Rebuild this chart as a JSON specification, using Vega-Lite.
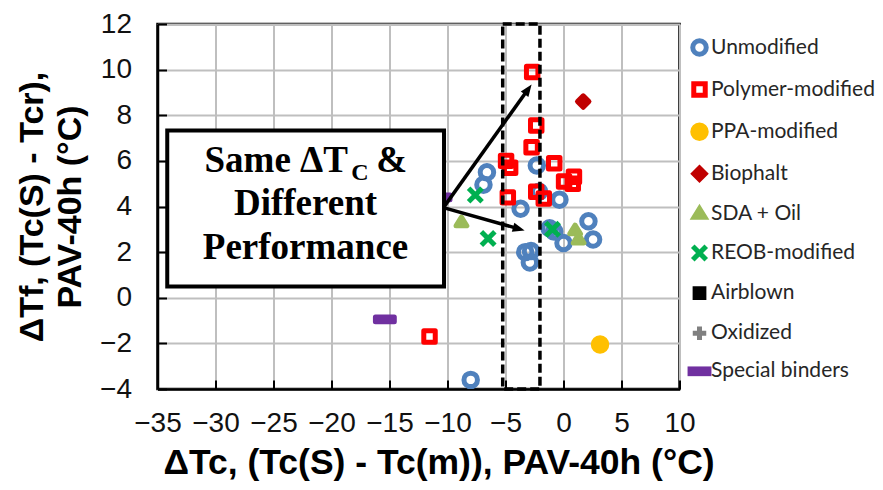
{
  "$schema": "https://vega.github.io/schema/vega-lite/v6.json",
  "width": 522,
  "height": 365,
  "autosize": "none",
  "padding": {"left": 157.5, "top": 24, "right": 203.5, "bottom": 101},
  "background": "white",
  "config": {
    "view": {"stroke": "black", "strokeWidth": 2.5}
  },
  "encoding": {
    "x": {
      "field": "x",
      "type": "quantitative",
      "scale": {"domain": [-35, 10], "nice": false, "zero": false},
      "axis": {
        "values": [-35, -30, -25, -20, -15, -10, -5, 0, 5, 10],
        "title": "ΔTc, (Tc(S) - Tc(m)), PAV-40h (°C)",
        "grid": true, "gridColor": "#bfbfbf", "gridWidth": 2,
        "tickSize": -9, "tickColor": "black", "tickWidth": 2,
        "domainColor": "black", "domainWidth": 2.5,
        "labelFont": "Liberation Sans", "labelFontSize": 28, "labelColor": "#111",
        "labelPadding": 29, "labelFlush": false, "labelOverlap": false,
        "titleFont": "Liberation Sans", "titleFontWeight": "bold", "titleFontSize": 35.5,
        "titleColor": "black", "titleX": 281, "titleY": 73, "titleBaseline": "middle", "titleAlign": "center"
      }
    },
    "y": {
      "field": "y",
      "type": "quantitative",
      "scale": {"domain": [-4, 12], "nice": false, "zero": false},
      "axis": {
        "values": [-4, -2, 0, 2, 4, 6, 8, 10, 12],
        "title": ["ΔTf,  (Tc(S) - Tcr),", "PAV-40h (°C)"],
        "grid": true, "gridColor": "#bfbfbf", "gridWidth": 2,
        "tickSize": -9, "tickColor": "black", "tickWidth": 2,
        "domainColor": "black", "domainWidth": 2.5,
        "labelFont": "Liberation Sans", "labelFontSize": 28, "labelColor": "#111",
        "labelPadding": 35, "labelFlush": false, "labelOverlap": false,
        "titleFont": "Liberation Sans", "titleFontWeight": "bold", "titleFontSize": 34,
        "titleLineHeight": 38, "titleColor": "black",
        "titleX": -125.5, "titleY": 182.5, "titleAngle": -90,
        "titleBaseline": "middle", "titleAlign": "center"
      }
    }
  },
  "layer": [
    {
      "data": {
        "values": [
          {"type": "Unmodified", "x": -6.6, "y": 5.5},
          {"type": "Unmodified", "x": -6.9, "y": 4.95},
          {"type": "Unmodified", "x": -2.3, "y": 5.8},
          {"type": "Unmodified", "x": -2.1, "y": 4.65},
          {"type": "Unmodified", "x": -0.35, "y": 4.3},
          {"type": "Unmodified", "x": -3.7, "y": 3.9},
          {"type": "Unmodified", "x": 2.15, "y": 3.35},
          {"type": "Unmodified", "x": -1.2, "y": 3.05},
          {"type": "Unmodified", "x": -0.8, "y": 2.9},
          {"type": "Unmodified", "x": 0.0, "y": 2.4},
          {"type": "Unmodified", "x": 2.55, "y": 2.55},
          {"type": "Unmodified", "x": -3.3, "y": 2.0},
          {"type": "Unmodified", "x": -2.8, "y": 2.05},
          {"type": "Unmodified", "x": -2.9, "y": 1.55},
          {"type": "Unmodified", "x": -8.0, "y": -3.6},
          {"type": "Polymer-modified", "x": -2.7, "y": 9.9},
          {"type": "Polymer-modified", "x": -2.35, "y": 7.55},
          {"type": "Polymer-modified", "x": -2.75, "y": 6.6},
          {"type": "Polymer-modified", "x": -4.95, "y": 6.0},
          {"type": "Polymer-modified", "x": -4.6, "y": 5.7},
          {"type": "Polymer-modified", "x": -0.8, "y": 5.9},
          {"type": "Polymer-modified", "x": 0.05, "y": 5.1},
          {"type": "Polymer-modified", "x": 0.9, "y": 5.3},
          {"type": "Polymer-modified", "x": 0.8, "y": 5.0},
          {"type": "Polymer-modified", "x": -4.8, "y": 4.4},
          {"type": "Polymer-modified", "x": -2.35, "y": 4.65},
          {"type": "Polymer-modified", "x": -1.7, "y": 4.35},
          {"type": "Polymer-modified", "x": -11.55, "y": -1.7},
          {"type": "PPA-modified", "x": 3.15, "y": -2.05},
          {"type": "Biophalt", "x": 1.7, "y": 8.6},
          {"type": "SDA + Oil", "x": -8.8, "y": 3.3},
          {"type": "SDA + Oil", "x": 1.0, "y": 2.95},
          {"type": "SDA + Oil", "x": 1.3, "y": 2.55},
          {"type": "REOB-modified", "x": -7.6, "y": 4.5},
          {"type": "REOB-modified", "x": -6.5, "y": 2.6},
          {"type": "REOB-modified", "x": -0.95, "y": 3.0},
          {"type": "Special binders", "x": -15.4, "y": -0.95},
          {"type": "Special binders", "x": -10.6, "y": 4.4}
        ]
      },
      "mark": {"type": "point", "size": 182, "strokeWidth": 5, "strokeJoin": "round", "opacity": 1},
      "encoding": {
        "shape": {
          "field": "type", "type": "nominal", "title": null,
          "scale": {
            "domain": ["Unmodified", "Polymer-modified", "PPA-modified", "Biophalt", "SDA + Oil", "REOB-modified", "Airblown", "Oxidized", "Special binders"],
            "range": [
              "circle",
              "M-0.85,-0.85L0.85,-0.85L0.85,0.85L-0.85,0.85Z",
              "circle",
              "M0,-0.85L0.85,0L0,0.85L-0.85,0Z",
              "M0,-0.8L0.8,0.5L-0.8,0.5Z",
              "M-1,-1L1,1M1,-1L-1,1",
              "M-0.65,-0.65L0.65,-0.65L0.65,0.65L-0.65,0.65Z",
              "M-1,0L1,0M0,-1L0,1",
              "M-1.4,-0.35L1.4,-0.35L1.4,0.35L-1.4,0.35Z"
            ]
          },
          "legend": {
            "orient": "none", "legendX": 531.5, "legendY": 13,
            "symbolSize": 182, "symbolStrokeWidth": 5,
            "labelFont": "Lato", "labelFontSize": 21, "labelColor": "#262626",
            "labelLimit": 0,
            "rowPadding": 8.1, "labelOffset": 1, "symbolLimit": 0
          }
        },
        "stroke": {
          "field": "type", "type": "nominal", "title": null,
          "scale": {
            "domain": ["Unmodified", "Polymer-modified", "PPA-modified", "Biophalt", "SDA + Oil", "REOB-modified", "Airblown", "Oxidized", "Special binders"],
            "range": ["#4f81bd", "#ff0000", "#ffc000", "#c00000", "#9bbb59", "#00b050", "#000000", "#808080", "#7030a0"]
          }
        },
        "fill": {
          "field": "type", "type": "nominal", "title": null,
          "scale": {
            "domain": ["Unmodified", "Polymer-modified", "PPA-modified", "Biophalt", "SDA + Oil", "REOB-modified", "Airblown", "Oxidized", "Special binders"],
            "range": ["transparent", "transparent", "#ffc000", "#c00000", "#9bbb59", "transparent", "#000000", "transparent", "#7030a0"]
          }
        }
      }
    },
    {
      "data": {"values": [{"x": -5.24, "x2": -2.03, "y": 12, "y2": -4}]},
      "mark": {"type": "rect", "filled": false, "stroke": "black", "strokeWidth": 3.5, "strokeDash": [9, 4]},
      "encoding": {"x2": {"field": "x2"}, "y2": {"field": "y2"}}
    },
    {
      "data": {"values": [{"x": -34.16, "x2": -10.3, "y": 7.33, "y2": 0.49}]},
      "mark": {"type": "rect", "fill": "white", "stroke": "black", "strokeWidth": 4},
      "encoding": {"x2": {"field": "x2"}, "y2": {"field": "y2"}}
    },
    {
      "data": {"values": [
        {"label": "Same ΔT", "x": -30.95, "y": 5.53},
        {"label": "&", "x": -16.15, "y": 5.53}
      ]},
      "mark": {"type": "text", "font": "Liberation Serif", "fontWeight": "bold", "fontSize": 37, "align": "left", "baseline": "alphabetic", "color": "black"},
      "encoding": {"text": {"field": "label"}}
    },
    {
      "data": {"values": [{"label": "C", "x": -18.3, "y": 5.17}]},
      "mark": {"type": "text", "font": "Liberation Serif", "fontWeight": "bold", "fontSize": 24, "align": "left", "baseline": "alphabetic", "color": "black"},
      "encoding": {"text": {"field": "label"}}
    },
    {
      "data": {"values": [
        {"label": "Different", "x": -22.24, "y": 3.63},
        {"label": "Performance", "x": -22.24, "y": 1.69}
      ]},
      "mark": {"type": "text", "font": "Liberation Serif", "fontWeight": "bold", "fontSize": 37, "align": "center", "baseline": "alphabetic", "color": "black"},
      "encoding": {"text": {"field": "label"}}
    },
    {
      "data": {"values": [
        {"x": -10.35, "y": 3.95, "x2": -3.05, "y2": 9.14},
        {"x": -10.35, "y": 3.95, "x2": -3.85, "y2": 3.02}
      ]},
      "mark": {"type": "rule", "color": "black", "strokeWidth": 3.5},
      "encoding": {"x2": {"field": "x2"}, "y2": {"field": "y2"}}
    },
    {
      "data": {"values": [{"x": -2.75, "y": 9.35}]},
      "mark": {"type": "point", "shape": "M0,0L-0.7,1.8L0.7,1.8Z", "size": 178, "filled": true, "color": "black", "opacity": 1, "angle": 35.6}
    },
    {
      "data": {"values": [{"x": -3.35, "y": 2.95}]},
      "mark": {"type": "point", "shape": "M0,0L-0.7,1.8L0.7,1.8Z", "size": 178, "filled": true, "color": "black", "opacity": 1, "angle": 105.7}
    }
  ]
}
